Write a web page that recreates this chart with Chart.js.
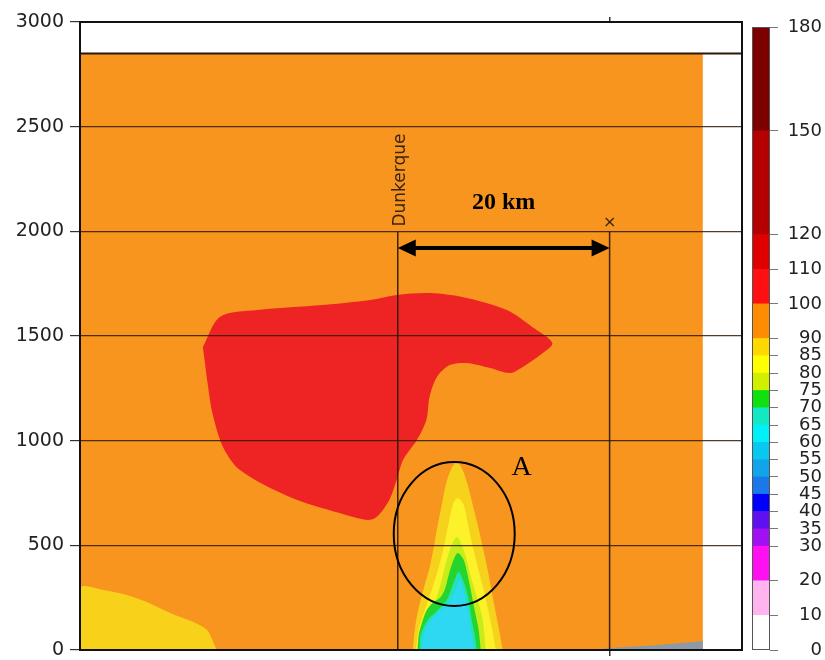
<!DOCTYPE html>
<html>
<head>
<meta charset="utf-8">
<script src="https://cdn.jsdelivr.net/npm/chart.js@4/dist/chart.umd.min.js"></script>
<style>
  html, body { margin: 0; padding: 0; background: #fff; }
  #wrap { position: relative; width: 825px; height: 660px; }
  #section { position: absolute; left: 0; top: 0; }
  #scale { position: absolute; left: 745px; top: 0; }
</style>
</head>
<body>
<div id="wrap">
  <canvas id="section" width="745" height="660"></canvas>
  <canvas id="scale" width="80" height="660"></canvas>
</div>
<script>
// Vertical cross-section: distance along the section (km) vs height (m)
const heightTicks = [0, 500, 1000, 1500, 2000, 2500, 3000];
const distanceTicks = [50];
const X_MAX_KM = 62.5;
const DOMAIN_RIGHT_KM = 58.8;
const DOMAIN_TOP_M = 2850;

// Contour regions, each an outline of [km, m] pairs
const redCore = [[11.6,1447],[13.2,1591],[16.7,1624],[22.9,1648],[27.4,1672],[29.9,1696],[33.0,1705],[36.5,1682],[40.3,1624],[42.7,1543],[44.6,1467],[43.7,1419],[41.8,1352],[40.6,1323],[38.7,1347],[36.5,1371],[34.9,1361],[33.7,1304],[33.0,1209],[32.7,1099],[31.8,1003],[30.5,908],[29.9,812],[29.2,717],[28.0,635],[27.1,621],[24.5,654],[19.8,731],[15.1,860],[13.5,970],[12.5,1132],[12.0,1290]];
const coastalYellow = [[0,0],[0,296],[2.2,287],[4.4,263],[6.3,229],[8.5,177],[10.7,134],[12.0,96],[12.5,48],[12.9,0]];
const plume85 = [[31.42,0],[31.60,96],[31.89,182],[32.36,277],[33.02,396],[33.40,492],[33.77,597],[34.15,693],[34.53,788],[35.00,860],[35.57,898],[36.13,860],[36.60,788],[37.08,693],[37.55,597],[38.02,492],[38.49,382],[38.96,253],[39.43,134],[39.91,0]];
const plume80 = [[31.70,0],[31.98,96],[32.55,191],[33.21,287],[33.87,396],[34.34,492],[34.81,607],[35.19,693],[35.66,726],[36.23,693],[36.60,607],[37.08,492],[37.55,396],[38.11,287],[38.58,182],[38.96,86],[39.25,0]];
const plume75 = [[31.79,0],[32.08,86],[32.83,167],[33.58,239],[34.15,334],[34.62,430],[35.09,502],[35.57,540],[36.04,502],[36.51,430],[36.98,334],[37.55,239],[38.02,143],[38.30,0]];
const plume70 = [[31.89,0],[31.98,72],[32.36,143],[32.74,191],[33.30,225],[33.96,248],[34.43,287],[34.81,358],[35.19,420],[35.66,463],[36.23,430],[36.60,358],[36.89,287],[37.26,191],[37.64,96],[37.83,0]];
const plume65 = [[32.08,0],[32.17,72],[32.83,143],[33.77,191],[34.62,239],[35.19,311],[35.75,373],[36.32,311],[36.70,239],[36.98,143],[37.26,72],[37.45,0]];
const plume60 = [[32.26,0],[32.36,57],[32.83,119],[33.68,172],[34.72,220],[35.38,277],[35.85,334],[36.23,277],[36.51,215],[36.79,143],[36.98,72],[37.17,0]];
const terrain = [[48.5,0],[50,10],[54,22],[58.8,42],[58.8,0]];

// Colour scale: class boundaries and fill colours
const levelBounds = [0,10,20,30,35,40,45,50,55,60,65,70,75,80,85,90,100,110,120,150,180];
const levelColors = ['#ffffff','#ffb4f0','#ff10f0','#a010f0','#6010f0','#0000fa','#1a78ea','#10a4ea','#08c8f0','#00f0f8','#12e8c4','#10e010','#d0f000','#ffff00','#ffd800','#ff8c00','#ff1010','#e00000','#b40000','#7c0000'];

// Annotations
const markerKm = { Dunkerque: 30, cross: 50 };
const MARKER_TOP_M = 2000;
const spanArrow = { from: 30, to: 50, y: 1920, label: '20 km', labelY: 2135 };
const zoneA = { x: 35.33, y: 554, rx: 5.71, ry: 344, label: 'A', labelX: 41.7, labelY: 870 };

const rect = (x0, x1, y0, y1) => [[x0, y0], [x0, y1], [x1, y1], [x1, y0]];

const layers = [
  { pts: rect(0, DOMAIN_RIGHT_KM, 0, DOMAIN_TOP_M), color: '#f8951f', tension: 0 },
  { pts: coastalYellow, color: '#f8d21a', tension: 0.3 },
  { pts: redCore, color: '#ee2424', tension: 0.3 },
  { pts: plume85, color: '#f6d21c', tension: 0.3 },
  { pts: plume80, color: '#fbf22a', tension: 0.3 },
  { pts: plume75, color: '#c6ec1a', tension: 0.3 },
  { pts: plume70, color: '#26d42e', tension: 0.3 },
  { pts: plume65, color: '#22e2be', tension: 0.3 },
  { pts: plume60, color: '#2ed8f2', tension: 0.3 },
  { pts: terrain, color: '#8c99a6', tension: 0 }
];

const overlay = {
  id: 'overlay',
  afterDraw(chart) {
    const { ctx, chartArea: a, scales: { x, y } } = chart;
    ctx.save();
    // top of the model domain
    ctx.strokeStyle = '#2a1a0a';
    ctx.lineWidth = 2;
    ctx.beginPath();
    ctx.moveTo(a.left, y.getPixelForValue(DOMAIN_TOP_M));
    ctx.lineTo(a.right, y.getPixelForValue(DOMAIN_TOP_M));
    ctx.stroke();

    // station markers
    ctx.strokeStyle = 'rgba(50,28,8,0.95)';
    ctx.lineWidth = 1.5;
    for (const k of Object.values(markerKm)) {
      const px = x.getPixelForValue(k);
      ctx.beginPath();
      ctx.moveTo(px, y.getPixelForValue(MARKER_TOP_M));
      ctx.lineTo(px, y.getPixelForValue(0));
      ctx.stroke();
    }
    // "Dunkerque" label, reading upwards
    ctx.fillStyle = '#3a2410';
    ctx.font = '17px "DejaVu Sans"';
    ctx.textAlign = 'center';
    ctx.textBaseline = 'middle';
    ctx.save();
    ctx.translate(x.getPixelForValue(markerKm.Dunkerque) + 3, y.getPixelForValue(2245));
    ctx.rotate(-Math.PI / 2);
    ctx.fillText('Dunkerque', 0, 0);
    ctx.restore();
    ctx.font = '16px "DejaVu Sans"';
    ctx.fillText('×', x.getPixelForValue(markerKm.cross), y.getPixelForValue(2040));

    // 20 km span arrow
    const ay = y.getPixelForValue(spanArrow.y);
    const ax0 = x.getPixelForValue(spanArrow.from), ax1 = x.getPixelForValue(spanArrow.to);
    const head = 18, half = 8.5;
    ctx.strokeStyle = '#000';
    ctx.fillStyle = '#000';
    ctx.lineWidth = 4;
    ctx.beginPath();
    ctx.moveTo(ax0 + head - 2, ay);
    ctx.lineTo(ax1 - head + 2, ay);
    ctx.stroke();
    ctx.beginPath();
    ctx.moveTo(ax0, ay); ctx.lineTo(ax0 + head, ay - half); ctx.lineTo(ax0 + head, ay + half); ctx.closePath();
    ctx.moveTo(ax1, ay); ctx.lineTo(ax1 - head, ay - half); ctx.lineTo(ax1 - head, ay + half); ctx.closePath();
    ctx.fill();
    ctx.font = 'bold 24px "Liberation Serif"';
    ctx.fillText(spanArrow.label, (ax0 + ax1) / 2, y.getPixelForValue(spanArrow.labelY));

    // zone A
    const cx = x.getPixelForValue(zoneA.x), cy = y.getPixelForValue(zoneA.y);
    const rx = Math.abs(x.getPixelForValue(zoneA.x + zoneA.rx) - cx);
    const ry = Math.abs(y.getPixelForValue(zoneA.y + zoneA.ry) - cy);
    ctx.lineWidth = 2;
    ctx.beginPath();
    ctx.ellipse(cx, cy, rx, ry, 0, 0, Math.PI * 2);
    ctx.stroke();
    ctx.font = '28px "Liberation Serif"';
    ctx.fillText(zoneA.label, x.getPixelForValue(zoneA.labelX), y.getPixelForValue(zoneA.labelY));

    // plot frame
    ctx.strokeStyle = '#111';
    ctx.lineWidth = 2;
    ctx.strokeRect(a.left, a.top, a.right - a.left, a.bottom - a.top);
    ctx.restore();
  }
};

const axisFont = { family: '"DejaVu Sans"', size: 19 };
const barFont = { family: '"DejaVu Sans"', size: 18 };
const plainNumber = v => String(v);

new Chart(document.getElementById('section'), {
  type: 'scatter',
  data: {
    datasets: layers.map((L, i) => ({
      data: L.pts.map(([x, y]) => ({ x, y })),
      showLine: true,
      fill: 'shape',
      backgroundColor: L.color,
      borderColor: 'transparent',
      borderWidth: 0,
      pointRadius: 0,
      tension: L.tension,
      order: layers.length - i
    }))
  },
  options: {
    responsive: false,
    animation: false,
    events: [],
    layout: { padding: { left: 0, right: 3, top: 22, bottom: 0 } },
    plugins: { legend: { display: false }, tooltip: { enabled: false } },
    scales: {
      x: {
        type: 'linear', min: 0, max: X_MAX_KM,
        afterBuildTicks: s => { s.ticks = distanceTicks.map(v => ({ value: v })); },
        ticks: { display: false },
        grid: { drawOnChartArea: false, tickLength: 6, color: '#333', lineWidth: 1.5 },
        border: { display: false },
        afterFit: s => { s.height = 10; s.paddingLeft = 0; s.paddingRight = 0; }
      },
      x2: {
        type: 'linear', position: 'top', min: 0, max: X_MAX_KM,
        afterBuildTicks: s => { s.ticks = distanceTicks.map(v => ({ value: v })); },
        ticks: { display: false },
        grid: { drawOnChartArea: false, tickLength: 5, color: '#333', lineWidth: 1.5 },
        border: { display: false },
        afterFit: s => { s.height = 0; s.paddingLeft = 0; s.paddingRight = 0; }
      },
      y: {
        min: 0, max: 3000,
        afterBuildTicks: s => { s.ticks = heightTicks.map(v => ({ value: v })); },
        ticks: { font: axisFont, color: '#222', padding: 6, callback: plainNumber },
        grid: { z: 1, color: 'rgba(48,26,6,0.85)', lineWidth: 1.2, tickLength: 10, tickColor: '#333' },
        border: { display: false },
        afterFit: s => { s.width = 80; s.paddingTop = 0; s.paddingBottom = 0; }
      }
    }
  },
  plugins: [overlay]
});

// Colour bar
const barFrame = {
  id: 'barFrame',
  afterDraw(chart) {
    const { ctx, chartArea: a } = chart;
    ctx.save();
    ctx.strokeStyle = '#555';
    ctx.lineWidth = 1;
    ctx.strokeRect(a.left + 0.5, a.top + 0.5, a.right - a.left - 1, a.bottom - a.top - 1);
    ctx.restore();
  }
};

new Chart(document.getElementById('scale'), {
  type: 'bar',
  data: {
    labels: [''],
    datasets: levelColors.map((c, i) => ({
      data: [levelBounds[i + 1] - levelBounds[i]],
      backgroundColor: c,
      borderWidth: 0,
      barPercentage: 1,
      categoryPercentage: 1
    }))
  },
  options: {
    responsive: false,
    animation: false,
    events: [],
    layout: { padding: { left: 7, right: 3, top: 27, bottom: 10 } },
    plugins: { legend: { display: false }, tooltip: { enabled: false } },
    scales: {
      x: { stacked: true, display: false },
      y: {
        stacked: true, position: 'right', min: 0, max: 180,
        afterBuildTicks: s => { s.ticks = levelBounds.map(v => ({ value: v })); },
        ticks: { font: barFont, color: '#222', crossAlign: 'far', autoSkip: false, padding: 4, callback: plainNumber },
        grid: { drawOnChartArea: false, tickLength: 8, color: '#777', lineWidth: 1 },
        border: { display: false },
        afterFit: s => { s.width = 52; s.paddingTop = 0; s.paddingBottom = 0; }
      }
    }
  },
  plugins: [barFrame]
});
</script>
</body>
</html>
